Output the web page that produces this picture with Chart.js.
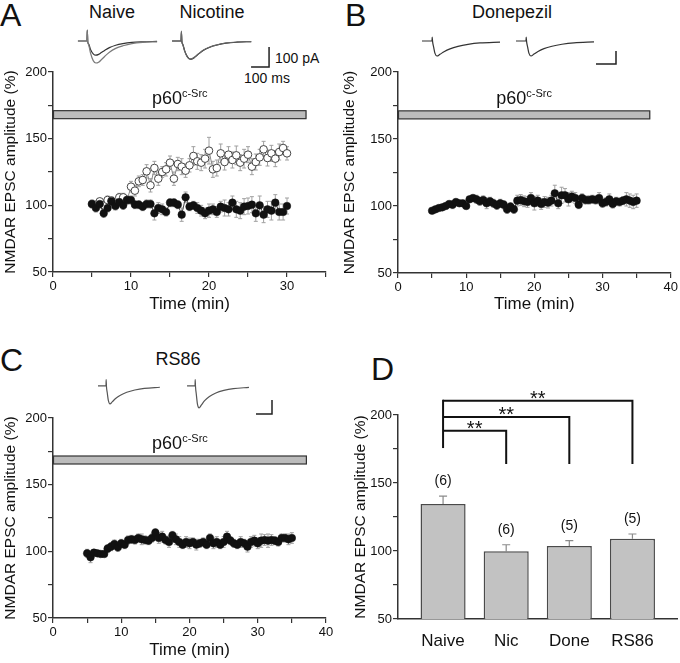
<!DOCTYPE html>
<html><head><meta charset="utf-8">
<script src="https://cdn.jsdelivr.net/npm/chart.js@4.4.1/dist/chart.umd.min.js"></script>
<style>
html,body{margin:0;padding:0;background:#fff;}
#wrap{position:relative;width:680px;height:663px;overflow:hidden;font-family:'Liberation Sans',Arial,sans-serif;color:#111;}
canvas{position:absolute;}
.t{position:absolute;white-space:nowrap;line-height:1;}
.c{transform:translateX(-50%);}
</style></head><body><div id="wrap">
<div class="t" style="left:0px;top:-1px;font-size:32px">A</div>
<div class="t" style="left:345px;top:-1px;font-size:32px">B</div>
<div class="t" style="left:0px;top:344px;font-size:32px">C</div>
<div class="t" style="left:371px;top:353px;font-size:32px">D</div>
<div class="t c" style="left:112px;top:3px;font-size:18px">Naive</div>
<div class="t c" style="left:212px;top:3px;font-size:18px">Nicotine</div>
<div class="t c" style="left:512px;top:3px;font-size:18px">Donepezil</div>
<div class="t c" style="left:178px;top:350px;font-size:18px">RS86</div>
<div class="t" style="left:275px;top:51px;font-size:14px">100 pA</div>
<div class="t" style="left:244px;top:71px;font-size:14px">100 ms</div>
</div>
<script>
// ---------- DATA ----------
const timeA = [5,5.5,6,6.5,7,7.5,8,8.5,9,9.5,10,10.5,11,11.5,12,12.5,13,13.5,14,14.5,15,15.5,16,16.5,17,17.5,18,18.5,19,19.5,20,20.5,21,21.5,22,22.5,23,23.5,24,24.5,25,25.5,26,26.5,27,27.5,28,28.5,29,29.5,30];
const naiveA = [101,100.5,103,100,104,103.5,100.5,106,106,104,
  114,111,118,119,125.5,115,128,120,125,127,
  132,120,131,129,126,130,137,133,132,135,
  141,127,128,139,132.5,138,134,137.5,132,135,
  138,129,132.5,136,142,135.5,139,135,140,143,139];
const naiveErrA = [2,2,2,2,3,3,2,3,3,3, 4,4,4,4,5,5,5,5,4,5, 5,5,5,6,5,5,7,6,6,7, 10,6,6,7,6,6,6,7,6,7, 6,6,6,6,6,6,6,6,6,5,5];
const nicA = [101,98,101,94,98,103,99.5,102.5,100,104,
  104,100.5,100.5,99,101,101,94,98,97,95,
  102,102,100.5,93,106,99,100,98,96,94,
  96,97,95,99,98,97,102,97,96,99,
  99.5,100.5,94,100,93,97,96,102,95,95,99.5];
const nicErrA = [3,3,3,3,3,3,3,3,3,3, 3,3,3,3,3,3,5,4,4,3, 3,3,3,5,4,3,3,4,4,4, 5,4,4,4,6,5,5,6,6,6, 6,6,6,7,6,6,7,6,6,6,6];

const timeBC = [5,5.5,6,6.5,7,7.5,8,8.5,9,9.5,10,10.5,11,11.5,12,12.5,13,13.5,14,14.5,15,15.5,16,16.5,17,17.5,18,18.5,19,19.5,20,20.5,21,21.5,22,22.5,23,23.5,24,24.5,25,25.5,26,26.5,27,27.5,28,28.5,29,29.5,30,30.5,31,31.5,32,32.5,33,33.5,34,34.5,35];
const donB = [96.5,97.5,98.5,99,100,101.5,101,103,102,102,
  100,105,106,105,103.5,104.5,102,103.5,102,100.5,
  102,101,97.5,99.5,97.5,104,104.5,103.5,103,106,
  102,104,101.5,103,102.5,104,109.5,102,108,108,
  105,107,106,101,106,104.5,104.5,105,104.5,106,
  102,103,105,101.5,103.5,103,104,105,104,103,104];
const errB = [1.5,1.5,1.5,2,2,2,3,2,2,2, 2,2,2,3,3,3,4,3,3,3, 3,3,3,3,3,4,4,4,4,4, 5,4,4,4,4,4,6,4,6,5, 5,4,4,3,3,3,3,3,3,4, 3,3,4,3,3,3,3,5,5,5,5];
const rsC = [98.5,95.5,99,98.5,98,98,102,103.5,105.5,103,
  106,105,108.5,109,108.5,110,109,108.5,108,110,
  114,110,111,108.5,107,112,109,107,105,107,
  106,107,105,106,107,105,110,106,107,105,
  107,111,108,106,105,107,106,103.5,107,108,
  106,108,108.5,108,108.5,108,107,110,110,109,110];
const errC = [3,4,2,2,2,2,3,3,3,3, 3,3,3,3,3,3,4,3,3,3, 3,4,4,3,4,3,4,4,3,4, 4,3,4,3,3,3,3,4,4,3, 4,4,3,3,3,4,3,4,4,4, 4,5,4,5,4,3,3,3,3,4,4];

// drug application bar (min, %)
const drugStart = [0, 0, 0];
const drugEnd = [32.5, 37, 37.2];
const drugLow = [165, 165, 165.5];
const drugHigh = [171, 171, 171.5];

// summary (panel D)
const groupsD = ['Naive','Nic','Done','RS86'];
const meanD = [134.6, 99.8, 103.7, 109];
const semD = [5.8, 4.8, 3.9, 3.5];
const nD = ['(6)','(6)','(5)','(5)'];
const bracketTargets = [2, 3, 4];
const bracketLevels = [188.5, 198.5, 210.5];
const bracketDrop = 164;
const bracketBase = 175.7;

// example traces (ms, pA)
const traceTimeA = [0,50,52,55,60,70,85,100,115,130,150,175,210,250,300,360,440];
const naiveTraceBig = [0,0,55,-5,-20,-60,-98,-110,-106,-94,-76,-56,-37,-24,-13,-7,-4];
const naiveTraceSmall = [0,0,55,-5,-16,-42,-64,-71,-67,-58,-46,-33,-21,-13,-7,-4,-2];
const nicTrace1 = [0,0,50,-5,-18,-50,-80,-90,-87,-77,-62,-45,-30,-19,-10,-5,-3];
const nicTrace2 = [0,0,45,-5,-17,-48,-78,-91,-88,-78,-63,-46,-31,-20,-11,-6,-3];
const scaleBarAx = [439,539,539], scaleBarAy = [-130,-130,-30];
const traceTimeB = [0,50,51,53,58,65,75,90,110,140,180,230,290,390];
const donTrace1 = [0,0,30,-5,-45,-95,-115,-102,-82,-60,-41,-26,-15,-8];
const donTrace2 = [0,0,30,-5,-45,-95,-115,-100,-80,-58,-40,-25,-14,-7];
const scaleBarBx = [400,500,500], scaleBarBy = [-177,-177,-77];
const traceTimeC = [0,50,51,53,58,65,75,90,110,140,180,230,290,387];
const rsTrace1 = [0,0,45,-5,-50,-105,-128,-112,-90,-66,-45,-29,-17,-9];
const rsTrace2 = [0,0,45,-5,-60,-130,-157,-135,-105,-75,-50,-32,-19,-10];
const scaleBarCx = [431,531,531], scaleBarCy = [-200,-200,-100];

// ---------- HELPERS ----------
const FONT = "'Liberation Sans', Arial, sans-serif";
Chart.defaults.font.family = FONT;
Chart.defaults.color = '#111';
const wrap = document.getElementById('wrap');
function mk(left, top, w, h){
  const c = document.createElement('canvas');
  c.width = w; c.height = h;
  c.style.left = left+'px'; c.style.top = top+'px';
  c.style.width = w+'px'; c.style.height = h+'px';
  wrap.appendChild(c);
  return c;
}
const pts = (xs, ys) => xs.map((x,i)=>({x, y: ys[i]}));

const errorBarPlugin = {
  id: 'errbars',
  beforeDatasetsDraw(chart){
    const ctx = chart.ctx, xs = chart.scales.x, ys = chart.scales.y;
    chart.data.datasets.forEach(ds => {
      if (!ds.err) return;
      ctx.save();
      ctx.strokeStyle = ds.errColor || '#999';
      ctx.lineWidth = ds.errWidth || 1;
      const cap = ds.errCap || 2;
      ds.data.forEach((p,j) => {
        const e = ds.err[j]; if (e == null) return;
        const x = xs.getPixelForValue(p.x);
        const yt = ys.getPixelForValue(p.y + e);
        const yb = ds.errUpOnly ? ys.getPixelForValue(p.y) : ys.getPixelForValue(p.y - e);
        ctx.beginPath();
        ctx.moveTo(x, yt); ctx.lineTo(x, yb);
        ctx.moveTo(x-cap, yt); ctx.lineTo(x+cap, yt);
        if (!ds.errUpOnly){ ctx.moveTo(x-cap, yb); ctx.lineTo(x+cap, yb); }
        ctx.stroke();
      });
      ctx.restore();
    });
  }
};

const drugBarPlugin = {
  id: 'drugBar',
  beforeDatasetsDraw(chart, args, o){
    if (o.start == null) return;
    const ctx = chart.ctx, xs = chart.scales.x, ys = chart.scales.y;
    const x0 = xs.getPixelForValue(o.start), x1 = xs.getPixelForValue(o.end);
    const y0 = ys.getPixelForValue(o.high), y1 = ys.getPixelForValue(o.low);
    ctx.save();
    ctx.fillStyle = '#bcbcbc'; ctx.strokeStyle = '#333'; ctx.lineWidth = 1.2;
    ctx.fillRect(x0, y0, x1-x0, y1-y0);
    ctx.strokeRect(x0+0.5, y0, x1-x0-1, y1-y0);
    ctx.fillStyle = '#111';
    ctx.textBaseline = 'alphabetic';
    ctx.font = "18px " + FONT;
    const w1 = ctx.measureText('p60').width;
    ctx.font = "11px " + FONT;
    const w2 = ctx.measureText('c-Src').width;
    const cx = (x0+x1)/2, left = cx - (w1+w2)/2, base = y0 - 7;
    ctx.font = "18px " + FONT; ctx.textAlign = 'left';
    ctx.fillText('p60', left, base);
    ctx.font = "11px " + FONT;
    ctx.fillText('c-Src', left + w1, base - 7);
    ctx.restore();
  }
};

function axisCommon(){
  return {
    grid: {drawOnChartArea:false, drawTicks:true, tickLength:5, color:'#333', lineWidth:1.2},
    border: {color:'#333', width:1.5}
  };
}

function timeCourse(canvas, o){
  return new Chart(canvas, {
    type: 'scatter',
    data: {datasets: o.datasets},
    options: {
      responsive:false, animation:false, devicePixelRatio:1,
      layout:{padding:{top:12, right:o.padRight, left:0, bottom:0}},
      plugins:{legend:{display:false}, tooltip:{enabled:false}, drugBar:o.drug},
      scales:{
        x:Object.assign(axisCommon(), {type:'linear', min:0, max:o.xMax,
          afterFit:s=>{s.height=o.xH;},
          ticks:{stepSize:5, autoSkip:false, maxRotation:0, padding:2, font:{size:13}, color:'#111',
            callback:v=> v%10===0 ? String(v) : ''},
          title:{display:true, text:'Time (min)', font:{size:17}, color:'#111', padding:{top:0, bottom:o.xTitlePad}}}),
        y:Object.assign(axisCommon(), {type:'linear', min:50, max:200,
          afterFit:s=>{s.width=o.yW;},
          ticks:{stepSize:25, autoSkip:false, padding:1, font:{size:13}, color:'#111',
            callback:v=> v%50===0 ? String(v) : ''},
          title:{display:true, text:'NMDAR EPSC amplitude (%)', font:{size:15.5}, color:'#111', padding:{top:o.yTitlePad, bottom:0}}})
      }
    },
    plugins:[errorBarPlugin, drugBarPlugin]
  });
}

function filledSet(xs, ys, err){
  return {data:pts(xs,ys), err, showLine:true, borderColor:'#444', borderWidth:1,
    pointRadius:3.8, pointBackgroundColor:'#111', pointBorderColor:'#111', pointBorderWidth:0.5,
    errColor:'#a0a0a0', errCap:2};
}
function openSet(xs, ys, err){
  return {data:pts(xs,ys), err, showLine:true, borderColor:'#888', borderWidth:1,
    pointRadius:3.8, pointBackgroundColor:'#fff', pointBorderColor:'#444', pointBorderWidth:1,
    errColor:'#a0a0a0', errCap:2};
}

// Panel A
timeCourse(mk(0,60,340,260), {
  datasets:[filledSet(timeA, nicA, nicErrA), openSet(timeA, naiveA, naiveErrA)],
  xMax:35, padRight:14, xH:48, yW:53, xTitlePad:5, yTitlePad:1,
  drug:{start:drugStart[0], end:drugEnd[0], low:drugLow[0], high:drugHigh[0]}
});
// Panel B
timeCourse(mk(340,60,340,260), {
  datasets:[filledSet(timeBC, donB, errB)],
  xMax:40, padRight:9.3, xH:47, yW:58, xTitlePad:5, yTitlePad:0,
  drug:{start:drugStart[1], end:drugEnd[1], low:drugLow[1], high:drugHigh[1]}
});
// Panel C
timeCourse(mk(0,406,340,257), {
  datasets:[filledSet(timeBC, rsC, errC)],
  xMax:40, padRight:14, xH:45, yW:53, xTitlePad:2, yTitlePad:1,
  drug:{start:drugStart[2], end:drugEnd[2], low:drugLow[2], high:drugHigh[2]}
});

// Panel D
const bracketPlugin = {
  id:'brackets',
  afterDatasetsDraw(chart){
    const ctx = chart.ctx, xs = chart.scales.x, ys = chart.scales.y;
    ctx.save();
    ctx.strokeStyle = '#111'; ctx.lineWidth = 2; ctx.fillStyle = '#111';
    const x0 = xs.getPixelForValue(1);
    ctx.beginPath();
    ctx.moveTo(x0, ys.getPixelForValue(bracketBase));
    ctx.lineTo(x0, ys.getPixelForValue(Math.max(...bracketLevels)) - 1);
    ctx.stroke();
    ctx.font = "20px " + FONT; ctx.textAlign = 'center'; ctx.textBaseline = 'alphabetic';
    bracketTargets.forEach((t,i) => {
      const y = ys.getPixelForValue(bracketLevels[i]);
      const x1 = xs.getPixelForValue(t);
      ctx.beginPath();
      ctx.moveTo(x0, y); ctx.lineTo(x1, y); ctx.lineTo(x1, ys.getPixelForValue(bracketDrop));
      ctx.stroke();
      ctx.fillText('**', (x0+x1)/2, y + 4);
    });
    ctx.font = "14px " + FONT; ctx.textBaseline = 'middle';
    nD.forEach((s,i) => {
      ctx.fillText(s, xs.getPixelForValue(i+1), ys.getPixelForValue(meanD[i]+semD[i]) - 14.5);
    });
    ctx.restore();
  }
};
new Chart(mk(340,340,340,323), {
  type:'bar',
  data:{datasets:[{data: groupsD.map((g,i)=>({x:i+1, y:meanD[i]})), err: semD, errUpOnly:true,
    errColor:'#8a8a8a', errCap:4, errWidth:1.2,
    backgroundColor:'#c2c2c2', borderColor:'#4a4a4a', borderWidth:1.5,
    barPercentage:0.714, categoryPercentage:1}]},
  options:{
    responsive:false, animation:false, devicePixelRatio:1,
    layout:{padding:{top:75, right:3, left:0, bottom:0}},
    plugins:{legend:{display:false}, tooltip:{enabled:false}},
    scales:{
      x:{type:'linear', min:0.286, max:4.706, offset:false,
        afterBuildTicks:s=>{ s.ticks = [1,2,3,4].map(v=>({value:v})); },
        afterFit:s=>{s.height=44;},
        ticks:{autoSkip:false, maxRotation:0, padding:4, font:{size:17}, color:'#111',
          callback:v=> groupsD[Math.round(v)-1] || ''},
        grid:{display:false, offset:false},
        border:{color:'#333', width:1.5}},
      y:Object.assign(axisCommon(), {type:'linear', min:50, max:200,
        afterFit:s=>{s.width=58;},
        ticks:{stepSize:25, autoSkip:false, padding:1, font:{size:13}, color:'#111',
          callback:v=> v%50===0 ? String(v) : ''},
        title:{display:true, text:'NMDAR EPSC amplitude (%)', font:{size:15.5}, color:'#111', padding:{top:11, bottom:0}}})
    }
  },
  plugins:[errorBarPlugin, bracketPlugin]
});

// ---------- TRACES ----------
function traceChart(left, top, w, h, xr, yr, sets){
  return new Chart(mk(left, top, w, h), {
    type:'scatter',
    data:{datasets: sets.map(s => ({data: pts(s.x, s.y), showLine:true, pointRadius:0,
      borderColor:s.color, borderWidth:s.width || 1.2, tension:0, cubicInterpolationMode: s.smooth ? 'monotone' : 'default'}))},
    options:{responsive:false, animation:false, devicePixelRatio:1,
      layout:{padding:0},
      plugins:{legend:{display:false}, tooltip:{enabled:false}},
      scales:{x:{type:'linear', display:false, min:xr[0], max:xr[1]},
              y:{type:'linear', display:false, min:yr[0], max:yr[1]}}}
  });
}
traceChart(70,25,95,47,[-44,484],[-155,80],[
  {x:traceTimeA, y:naiveTraceBig, color:'#7a7a7a', smooth:true},
  {x:traceTimeA, y:naiveTraceSmall, color:'#333', smooth:true}]);
traceChart(165,25,110,47,[-39,572],[-155,80],[
  {x:traceTimeA, y:nicTrace1, color:'#666', smooth:true},
  {x:traceTimeA, y:nicTrace2, color:'#222', smooth:true},
  {x:scaleBarAx, y:scaleBarAy, color:'#222', width:1.5}]);
traceChart(415,25,90,47,[-35,415],[-238,123],[
  {x:traceTimeB, y:donTrace1, color:'#333', smooth:true}]);
traceChart(510,25,115,47,[-30,545],[-238,123],[
  {x:traceTimeB, y:donTrace2, color:'#333', smooth:true},
  {x:scaleBarBx, y:scaleBarBy, color:'#222', width:1.5}]);
traceChart(90,370,75,50,[-50,419],[-243,114],[
  {x:traceTimeC, y:rsTrace1, color:'#555', smooth:true}]);
traceChart(180,370,100,50,[-44,581],[-243,114],[
  {x:traceTimeC, y:rsTrace2, color:'#555', smooth:true},
  {x:scaleBarCx, y:scaleBarCy, color:'#222', width:1.5}]);
</script></body></html>
